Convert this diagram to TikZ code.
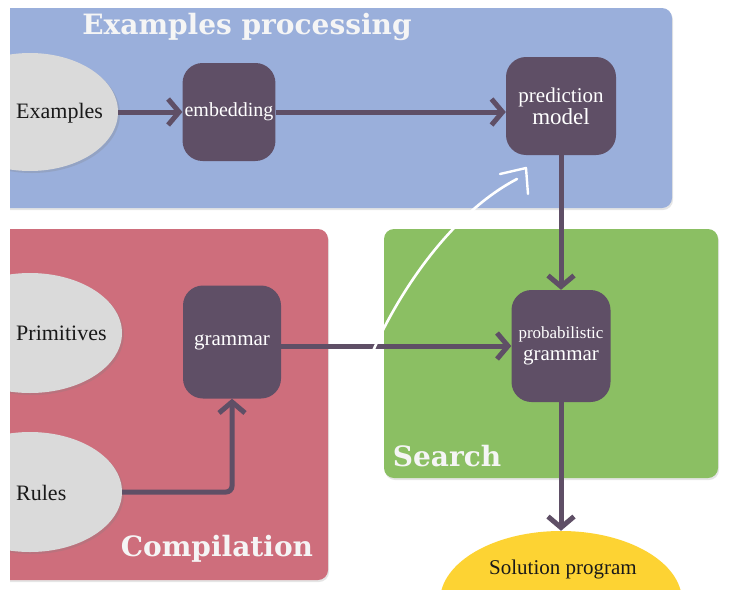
\documentclass[tikz,border=0pt]{standalone}
\usepackage{fontspec}
\setmainfont{Liberation Serif}
\newfontfamily\titlefont{DejaVu Serif}
\usetikzlibrary{arrows.meta,positioning,shapes.geometric,shadows}
\definecolor{procblue}{HTML}{9AAFDB}
\definecolor{compred}{HTML}{CE6E7C}
\definecolor{searchgreen}{HTML}{8BBF63}
\definecolor{boxpurple}{HTML}{5F4F66}
\definecolor{blobgray}{HTML}{DADADA}
\definecolor{solyellow}{HTML}{FDD333}

\begin{document}
\begin{tikzpicture}[x=1pt,y=-1pt,
  panel/.style={rounded corners=10pt,drop shadow={opacity=.2,shadow xshift=1pt,shadow yshift=-2pt}},
  blk/.style={fill=boxpurple,rounded corners=20pt,text=white,align=center,inner sep=2pt,
    font=\fontsize{21}{22}\selectfont},
  blob/.style={ellipse,fill=blobgray,inner sep=0pt,drop shadow={opacity=.25,shadow xshift=2pt,shadow yshift=-2pt}},
  txt/.style={anchor=west,inner sep=0pt,text=black!90,font=\fontsize{22}{24}\selectfont},
  flow/.style={draw=boxpurple,line width=5pt,-{Straight Barb[length=11pt,width=26pt]}},
  ttl/.style={text=white!96!black,font=\titlefont\bfseries\fontsize{28}{30}\selectfont}]
\useasboundingbox (0,0) rectangle (733,589);
\fill[white] (0,0) rectangle (733,589);
\begin{scope}
\clip (10,0) rectangle (733,589);
% panels
\fill[procblue,panel] (-20,8) rectangle (672,208);
\fill[compred,panel] (-20,229) rectangle (328,580);
\fill[searchgreen,panel] (384,229) rectangle (718,478);
% inputs
\node[blob,minimum width=176pt,minimum height=118pt] (examples) at (30,112) {};
\node[blob,minimum width=184pt,minimum height=120pt] (prims) at (30,333) {};
\node[blob,minimum width=184pt,minimum height=120pt] (rules) at (30,492) {};
\node[txt] (extext) at (16,113) {Examples};
\node[txt] (primtext) at (16,333) {Primitives};
\node[txt] (rulestext) at (16,493) {Rules};
\node[ellipse,fill=solyellow,minimum width=242pt,minimum height=140pt] (solution) at (561,601) {};
\node[text=black!90,font=\fontsize{21}{22}\selectfont] (soltext) at (563,569) {Solution program};
% blocks
\node[blk,minimum width=92pt,minimum height=98pt,font=\fontsize{20}{22}\selectfont] (embed) at (229,112) {embedding};
\node[blk,minimum width=110pt,minimum height=98pt] (predict) at (561,106) {prediction\\[0pt]{\fontsize{23}{24}\selectfont model}};
\node[blk,minimum width=98pt,minimum height=113pt] (grammar) at (232,342) {grammar};
\node[blk,minimum width=99pt,minimum height=112pt] (probgram) at (561,346) {{\fontsize{17}{18}\selectfont probabilistic}\\[0pt]grammar};
% arrows
\draw[flow] (examples.east) -- (embed.west);
\draw[flow] (embed.east) -- (embed.east -| predict.west);
\draw[flow] (predict.south) -- (probgram.north);
\draw[flow] (grammar.east |- probgram.west) -- (probgram.west);
\draw[flow,rounded corners=6pt] (rules.east) -| (grammar.south);
\draw[flow] (probgram.south) -- (solution.north);
% hand drawn note
\coordinate (scribble) at (373,351);
\coordinate (scribbletip) at (517,179);
\draw[white,line width=2.6pt,line cap=round] (scribble) .. controls (400,290) and (452,213) .. (scribbletip);
\draw[white,line width=2.4pt,line cap=round,line join=round] (500,174) -- (526,168) -- (528,194);
\end{scope}
% titles
\node[ttl] (proctitle) at (247,27) {Examples processing};
\node[ttl] (comptitle) at (217,549) {Compilation};
\node[ttl] (searchtitle) at (447,456) {Search};
\end{tikzpicture}
\end{document}
